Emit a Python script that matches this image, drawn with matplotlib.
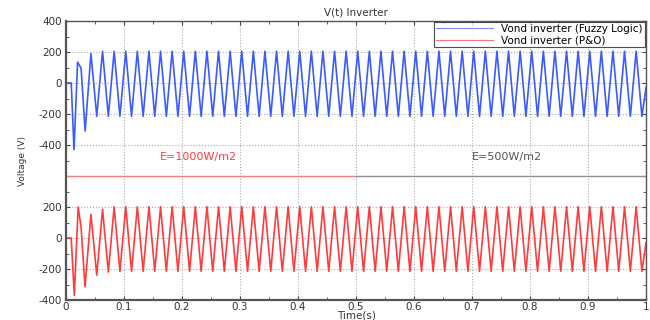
import matplotlib
matplotlib.use("Agg")
import matplotlib.pyplot as plt
import numpy as np

# ---- data ----
period = 0.02          # s (50 Hz)
t_end = 1.0

# Fuzzy Logic inverter voltage (top trace): start-up extrema, then steady state
fuzzy_start_t = [0.0, 0.009, 0.0138, 0.020, 0.026, 0.033, 0.043, 0.053]
fuzzy_start_v = [0, 0, -430, 135, 95, -310, 190, -215]
fuzzy_peak = 205
fuzzy_trough = -215

# P&O inverter voltage (bottom trace)
po_start_t = [0.0, 0.009, 0.0143, 0.021, 0.026, 0.0328, 0.043, 0.053]
po_start_v = [0, 0, -370, 200, 70, -315, 153, -240]
po_first_peak = 185     # at 0.063
po_second_trough = -220 # at 0.073
po_peak = 202
po_trough = -215

# irradiance step indicator
step_t = [0.0, 0.5, 1.0]
step_labels = ["E=1000W/m2", "E=500W/m2"]

y_ticks_bottom = [-400, -200, 0, 200]
y_ticks_top = [-400, -200, 0, 200, 400]
x_ticks = [0, 0.1, 0.2, 0.3, 0.4, 0.5, 0.6, 0.7, 0.8, 0.9, 1]
x_labels = ["0", "0.1", "0.2", "0.3", "0.4", "0.5", "0.6", "0.7", "0.8", "0.9", "1"]

TOP_OFFSET = 1000  # the fuzzy trace sits 1000 V above the P&O trace on the shared axis


def build_trace(start_t, start_v, peak, trough, first_peak_t, fixed=None):
    t = list(start_t)
    v = list(start_v)
    fixed = fixed or {}
    k = 0
    tk = first_peak_t
    while tk < t_end:
        if k % 2 == 0:
            val = fixed.get(k, peak)
        else:
            val = fixed.get(k, trough)
        t.append(tk)
        v.append(val)
        tk += period / 2
        k += 1
    # value at the right edge: rising from the last trough
    t.append(t_end)
    v.append(-30)
    return np.array(t), np.array(v)


t_fz, v_fz = build_trace(fuzzy_start_t, fuzzy_start_v, fuzzy_peak, fuzzy_trough, 0.063)
t_po, v_po = build_trace(po_start_t, po_start_v, po_peak, po_trough, 0.063,
                         fixed={0: po_first_peak, 1: po_second_trough})

fig = plt.figure(figsize=(6.5, 3.2), dpi=100)
ax = fig.add_axes([66 / 650, 20 / 320, 580 / 650, 279 / 320])

blue = "#3a5bff"
red = "#ff3b3b"

ax.plot(t_fz, v_fz + TOP_OFFSET, color=blue, linewidth=1.2,
        label="Vond inverter (Fuzzy Logic)")
ax.plot(t_po, v_po, color=red, linewidth=1.2, label="Vond inverter (P&O)")

# irradiance separator line
ax.plot(step_t[:2], [400, 400], color="#f08080", linewidth=1.0)
ax.plot(step_t[1:], [400, 400], color="#909090", linewidth=1.0)
ax.text(0.228, 525, step_labels[0], color=red, fontsize=8, ha="center", va="center")
ax.text(0.76, 525, step_labels[1], color="#555555", fontsize=8, ha="center", va="center")

ax.set_xlim(0, 1)
ax.set_ylim(-400, 1400)

yt = y_ticks_bottom + [400] + [v + TOP_OFFSET for v in y_ticks_top]
yl = [str(v) for v in y_ticks_bottom] + [""] + [str(v) for v in y_ticks_top]
ax.set_yticks(yt)
ax.set_yticklabels(yl)
ax.set_yticks(np.arange(-400, 1401, 100), minor=True)
ax.set_xticks(x_ticks)
ax.set_xticklabels(x_labels)
ax.set_xticks(np.arange(0, 1.001, 0.05), minor=True)

ax.tick_params(which="both", direction="in", top=True, right=True,
               labelsize=7.5, labelcolor="#333333", color="#444444")
ax.tick_params(which="major", length=3)
ax.tick_params(which="minor", length=2)
ax.tick_params(axis="x", pad=1.5)
ax.tick_params(axis="y", pad=3)
ax.grid(True, which="major", linestyle=":", color="#aaaaaa", linewidth=0.8)
for s in ax.spines.values():
    s.set_color("#555555")
    s.set_linewidth(1.0)
ax.spines["left"].set_linewidth(1.6)
ax.spines["bottom"].set_linewidth(1.6)

ax.set_title("V(t) Inverter", fontsize=7.5, color="#333333", pad=4)
ax.set_xlabel("Time(s)", fontsize=7.5, color="#333333", labelpad=-1)
ax.set_ylabel("Voltage (V)", fontsize=6.5, color="#333333", labelpad=8)

leg = ax.legend(loc="upper right", fontsize=7.5, frameon=True, fancybox=False,
                borderpad=0.2, labelspacing=0.1, handlelength=5.5, borderaxespad=0.1)
leg.get_frame().set_edgecolor("#222222")
leg.get_frame().set_linewidth(0.8)
for line in leg.get_lines():
    line.set_linewidth(0.8)
    line.set_alpha(0.7)

fig.savefig("out.png", dpi=100)
